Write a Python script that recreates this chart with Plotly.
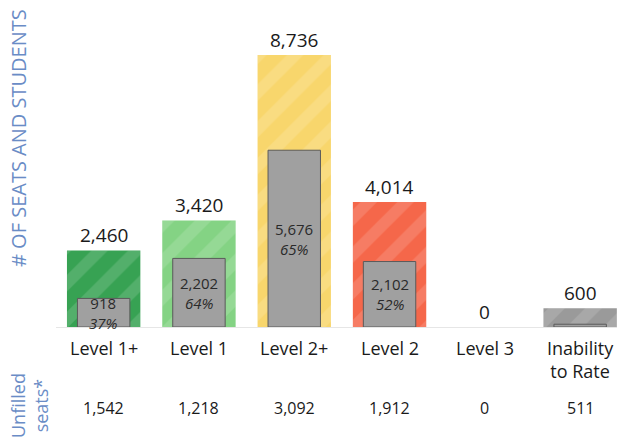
import plotly.graph_objects as go

categories = ["Level 1+", "Level 1", "Level 2+", "Level 2", "Level 3", "Inability<br>to Rate"]
total_seats = [2460, 3420, 8736, 4014, 0, 600]
filled = [918, 2202, 5676, 2102, 0, 89]
filled_pct = ["37%", "64%", "65%", "52%", "", ""]
unfilled = [1542, 1218, 3092, 1912, 0, 511]
bar_colors = ["#37a253", "#84d384", "#f8d66c", "#f5674a", "#9a9a9a", "#9a9a9a"]

FONT = "'Open Sans', sans-serif"
idx = list(range(len(categories)))

fig = go.Figure()
fig.add_trace(go.Bar(
    x=idx, y=total_seats, width=0.77,
    marker=dict(color=bar_colors, line=dict(width=0)),
    hoverinfo="skip", showlegend=False,
))
fig.add_trace(go.Bar(
    x=idx, y=total_seats, width=0.77,
    marker=dict(color="rgba(0,0,0,0)", line=dict(width=0),
                pattern=dict(shape="/", size=26, solidity=0.45, fillmode="overlay",
                             fgcolor="white", fgopacity=0.14)),
    hoverinfo="skip", showlegend=False,
))
fig.add_trace(go.Bar(
    x=idx, y=filled, width=0.55,
    marker=dict(color="#a0a0a0",
                line=dict(color="#5a5a5a", width=[1 if v > 0 else 0 for v in filled])),
    hoverinfo="skip", showlegend=False,
))

ann = []
for i, (t, f, p, u, c) in enumerate(zip(total_seats, filled, filled_pct, unfilled, categories)):
    ann.append(dict(x=i, y=t, xref="x", yref="y", text=f"{t:,}", showarrow=False,
                    yanchor="bottom", yshift=0, font=dict(family=FONT, size=19, color="#1a1a1a")))
    if p:
        ann.append(dict(x=i, y=max(f / 2, 400), xref="x", yref="y",
                        text=f"{f:,}<br><i>{p}</i>", showarrow=False,
                        yanchor="middle", font=dict(family=FONT, size=15, color="#2a2a2a")))
    ann.append(dict(x=i, y=0, xref="x", yref="y", text=c, showarrow=False,
                    yanchor="top", yshift=-7, font=dict(family=FONT, size=18, color="#1a1a1a")))
    ann.append(dict(x=i, y=0, xref="x", yref="y", text=f"{u:,}", showarrow=False,
                    yanchor="middle", yshift=-81, font=dict(family=FONT, size=16, color="#1a1a1a")))

W, H = 617, 438
ML, MR, MT, MB = 56, 0, 0, 111
pw, ph = W - ML - MR, H - MT - MB

ann.append(dict(x=(18 - ML) / pw, y=1 - (138 - MT) / ph, xref="paper", yref="paper",
                xanchor="center", yanchor="middle",
                text="# OF SEATS AND STUDENTS", textangle=-90, showarrow=False,
                font=dict(family=FONT, size=20, color="#6a8cc6")))
ann.append(dict(x=(29 - ML) / pw, y=1 - (406 - MT) / ph, xref="paper", yref="paper",
                xanchor="center", yanchor="middle",
                text="Unfilled<br>seats*", textangle=-90, showarrow=False,
                font=dict(family=FONT, size=18, color="#6a8cc6")))

fig.update_layout(
    width=W, height=H,
    margin=dict(l=ML, r=MR, t=MT, b=MB),
    paper_bgcolor="white", plot_bgcolor="white",
    barmode="overlay",
    annotations=ann,
    xaxis=dict(range=[-0.5, -0.5 + pw / 95.3], showticklabels=False, showgrid=False,
               zeroline=False, showline=True, linecolor="#e6e6e6", linewidth=1, fixedrange=True),
    yaxis=dict(range=[0, 10500], showticklabels=False, showgrid=False, zeroline=False,
               showline=False, fixedrange=True),
)
fig.write_html("out.html", config={"displayModeBar": False})

with open("out.html", "r", encoding="utf-8") as fh:
    html = fh.read()
html = html.replace("<head>", "<head><style>html,body{margin:0;padding:0;overflow:hidden;}</style>", 1)
with open("out.html", "w", encoding="utf-8") as fh:
    fh.write(html)
